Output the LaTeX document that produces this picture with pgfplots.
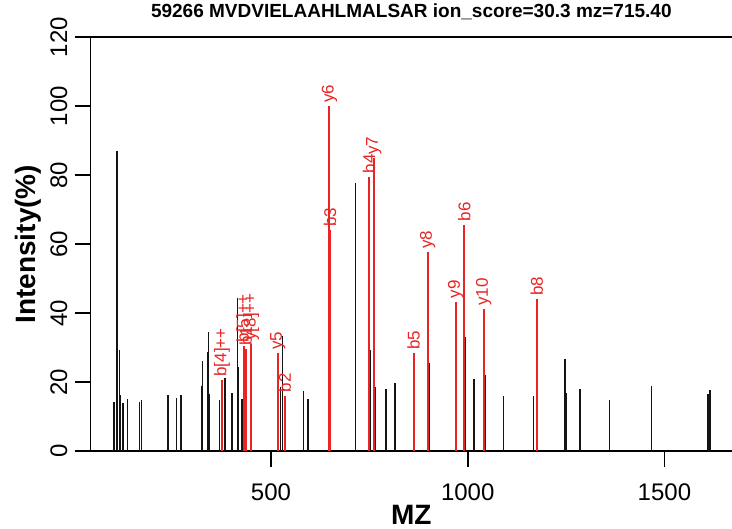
\documentclass[border=0pt]{standalone}
\usepackage{pgfplots}
\pgfplotsset{compat=1.18}
\usepackage{fontspec}
\setmainfont{Liberation Sans}
\definecolor{pkred}{RGB}{232,36,36}
\definecolor{pkblack}{RGB}{20,20,20}
\begin{document}
\begin{tikzpicture}
\begin{axis}[
  at={(0pt,0pt)}, anchor=south west,
  scale only axis, width=641.3pt, height=413.7pt,
  xmin=41.7, xmax=1671.8, ymin=0, ymax=120,
  axis lines*=left,
  axis line style={line width=1.6pt, black},
  tick align=outside,
  major tick length=16pt,
  every tick/.style={line width=1.6pt, black},
  xtick={500,1000,1500}, ytick={0,20,...,120},
  minor tick num=0,
  /pgf/number format/assume math mode=true,
  /pgf/number format/set thousands separator={},
  tick label style={font=\fontsize{24}{28}\selectfont},
  xticklabel style={anchor=north, inner sep=0pt},
  yticklabel style={rotate=90, anchor=south, inner sep=0pt},
  xticklabel shift=16.5pt, yticklabel shift=7.2pt,
  title={59266 MVDVIELAAHLMALSAR ion\_score=30.3 mz=715.40},
  title style={at={(axis description cs:0.5,1.0467)}, anchor=center, font=\bfseries\fontsize{19}{22}\selectfont, inner sep=0pt},
  xlabel={MZ},
  xlabel style={at={(axis description cs:0.5,-0.1547)}, anchor=center, font=\bfseries\fontsize{28}{32}\selectfont, inner sep=0pt},
  ylabel={Intensity(\%)},
  ylabel style={at={(axis description cs:-0.0978,0.5)}, anchor=center, font=\bfseries\fontsize{28}{32}\selectfont, inner sep=0pt},
  clip=false,
]
\addplot[ycomb, pkblack, line width=1.5pt, mark=none] table[x=x, y=y] {
x y
100.9 14.3
108.5 87.1
114.4 29.4
116.9 16.3
123.8 13.8
134.7 15.1
166.2 14.3
171.3 14.8
238.2 16.2
260.3 15.3
271.2 16.2
323.8 18.9
326.4 26.2
339.1 28.8
341.6 34.4
342.4 16.6
369.6 14.7
383.1 21.3
400.9 16.7
415.4 44.3
416.9 24.3
426.3 15.0
437.4 20.7
524.7 18.7
529.2 33.3
583.1 17.5
594.1 15.0
715.3 77.8
752.4 29.3
764.4 18.7
792.3 17.9
815.2 19.8
901.6 25.5
972.1 30.8
994.9 33.2
1016.5 21.0
1044.0 22.0
1090.5 16.0
1166.8 16.0
1246.8 26.6
1251.2 16.7
1285.5 18.0
1359.9 14.9
1467.7 18.9
1610.8 16.5
1615.9 17.6
};
\addplot[ycomb, pkred, line width=2pt, mark=none,
  point meta=explicit symbolic, nodes near coords,
  every node near coord/.style={rotate=90, anchor=west, font=\fontsize{17}{20}\selectfont, text=pkred, inner xsep=2.5pt, inner ysep=0pt}]
  table[x=x, y=y, meta=lab] {
x y lab
375.2 20.6 b[4]++
431.8 30.5 b[5]++
436.2 29.5 b1
449.75 31.0 y[8]++
517.3 28.3 y5
535.3 16.0 b2
648.35 100 y6
650.4 64.0 b3
749.4 79.6 b4
761.4 84.9 y7
862.5 28.3 b5
898.5 57.6 y8
969.5 43.3 y9
991.5 65.6 b6
1040.6 41.1 y10
1175.7 44.0 b8
};
\draw[line width=1.6pt, black] (rel axis cs:0,1) -- (rel axis cs:1,1);
\end{axis}
\pgfresetboundingbox
\path[use as bounding box] (-90.7pt,-78pt) rectangle (641.3pt,451pt);
\end{tikzpicture}
\end{document}
